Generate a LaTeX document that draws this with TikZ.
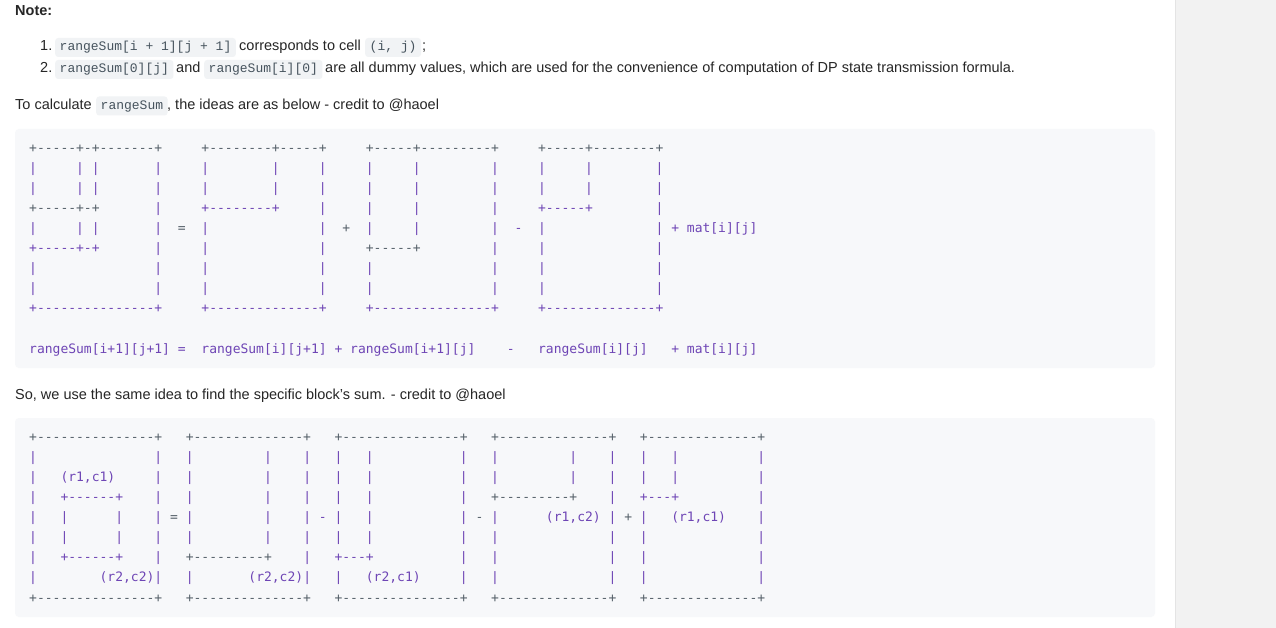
\documentclass[tikz,border=0pt]{standalone}
\usepackage{fontspec}
\setmainfont{Liberation Sans}
\setmonofont{DejaVu Sans Mono}
\newfontfamily\inlfont{Liberation Mono}
\definecolor{prosec}{HTML}{262626}
\definecolor{panel}{HTML}{F2F2F2}
\definecolor{panelline}{HTML}{E4E4E4}
\definecolor{blockbg}{HTML}{F7F8FA}
\definecolor{codebg}{HTML}{F1F3F5}
\definecolor{inltext}{HTML}{46535D}
\definecolor{artg}{HTML}{56616A}
\definecolor{artp}{HTML}{6E45B5}
\newcount\artn
\newcommand\cell[4]{\global\advance\artn by 1\relax
  \edef\artname{a\the\artn}%
  \node[art,text=#3] (\artname) at ({29+(#1)*7.83},{#2}) {#4};}
\newcommand\pipes[2]{\foreach \c in {#2} {\cell{\c}{#1}{artp}{|}}}
\begin{document}
\begin{tikzpicture}[x=1pt,y=-1pt,
  prose/.style={anchor=base west,inner sep=0pt,text=prosec,font=\fontsize{14.5}{17}\selectfont},
  inl/.style={anchor=base west,fill=codebg,rounded corners=3pt,inner xsep=4.5pt,inner ysep=3pt,
    text height=10pt,text depth=3pt,text=inltext,font=\inlfont\fontsize{13}{15}\selectfont},
  art/.style={anchor=base west,inner sep=0pt,font=\ttfamily\fontsize{13}{15}\selectfont}]
\useasboundingbox (0,0) rectangle (1276,628);
\fill[white] (0,0) rectangle (1276,628);
\fill[panel] (1175,0) rectangle (1276,628);
\draw[panelline] (1175.5,0) -- (1175.5,628);
\fill[blockbg,rounded corners=4pt] (15,129) rectangle (1155,368);
\fill[blockbg,rounded corners=4pt] (15,418) rectangle (1155,617);

% prose
\node[prose,font=\bfseries\fontsize{14.5}{17}\selectfont] (note) at (15,16) {Note:};
\node[prose] (n1) at (40,51) {1.};
\node[inl] (c1) at (55,51) {rangeSum[i + 1][j + 1]};
\node[prose] (t1) at (239,51) {corresponds to cell};
\node[inl] (c2) at (365,51) {(i, j)};
\node[prose] (t1e) at (422,51) {;};
\node[prose] (n2) at (40,73) {2.};
\node[inl] (c3) at (55,73) {rangeSum[0][j]};
\node[prose] (t2) at (176,73) {and};
\node[inl] (c4) at (204,73) {rangeSum[i][0]};
\node[prose] (t2e) at (325,73) {are all dummy values, which are used for the convenience of computation of DP state transmission formula.};
\node[prose] (t3) at (15,109.5) {To calculate};
\node[inl] (c5) at (96,109.5) {rangeSum};
\node[prose] (t3e) at (167,109.5) {, the ideas are as below - credit to @haoel};
\node[prose] (t4) at (15,399) {So, we use the same idea to find the specific block\symbol{39}s sum. - credit to @haoel};

% diagram 1
\def\B{152.5}
\cell{0}{\B}{artg}{+-----+-+-------+}
\cell{22}{\B}{artg}{+--------+-----+}
\cell{43}{\B}{artg}{+-----+---------+}
\cell{65}{\B}{artg}{+-----+--------+}
\pipes{\B+20.05}{0,6,8,16,22,31,37,43,49,59,65,71,80}
\pipes{\B+40.1}{0,6,8,16,22,31,37,43,49,59,65,71,80}
\cell{0}{\B+60.15}{artg}{+-----+-+}
\cell{22}{\B+60.15}{artp}{+--------+}
\cell{65}{\B+60.15}{artp}{+-----+}
\pipes{\B+60.15}{16,37,43,49,59,80}
\pipes{\B+80.2}{0,6,8,16,22,37,43,49,59,65,80}
\cell{19}{\B+80.2}{artg}{=}
\cell{40}{\B+80.2}{artg}{+}
\cell{62}{\B+80.2}{artp}{-}
\cell{82}{\B+80.2}{artp}{+}
\cell{84}{\B+80.2}{artp}{mat[i][j]}
\cell{0}{\B+100.25}{artp}{+-----+-+}
\cell{43}{\B+100.25}{artg}{+-----+}
\pipes{\B+100.25}{16,22,37,59,65,80}
\pipes{\B+120.3}{0,16,22,37,43,59,65,80}
\pipes{\B+140.35}{0,16,22,37,43,59,65,80}
\cell{0}{\B+160.4}{artp}{+---------------+}
\cell{22}{\B+160.4}{artp}{+--------------+}
\cell{43}{\B+160.4}{artp}{+---------------+}
\cell{65}{\B+160.4}{artp}{+--------------+}
\cell{0}{\B+200.5}{artp}{rangeSum[i+1][j+1]}
\cell{19}{\B+200.5}{artp}{=}
\cell{22}{\B+200.5}{artp}{rangeSum[i][j+1]}
\cell{39}{\B+200.5}{artp}{+}
\cell{41}{\B+200.5}{artp}{rangeSum[i+1][j]}
\cell{61}{\B+200.5}{artp}{-}
\cell{65}{\B+200.5}{artp}{rangeSum[i][j]}
\cell{82}{\B+200.5}{artp}{+}
\cell{84}{\B+200.5}{artp}{mat[i][j]}

% diagram 2
\def\C{441.6}
\cell{0}{\C}{artg}{+---------------+}
\cell{20}{\C}{artg}{+--------------+}
\cell{39}{\C}{artg}{+---------------+}
\cell{59}{\C}{artg}{+--------------+}
\cell{78}{\C}{artg}{+--------------+}
\pipes{\C+20.05}{0,16,20,30,35,39,43,55,59,69,74,78,82,93}
\pipes{\C+40.1}{0,16,20,30,35,39,43,55,59,69,74,78,82,93}
\cell{4}{\C+40.1}{artp}{(r1,c1)}
\pipes{\C+60.15}{0,16,20,30,35,39,43,55,74,93}
\cell{4}{\C+60.15}{artp}{+------+}
\cell{59}{\C+60.15}{artg}{+---------+}
\cell{78}{\C+60.15}{artp}{+---+}
\pipes{\C+80.2}{0,4,11,16,20,30,35,39,43,55,59,74,78,93}
\cell{18}{\C+80.2}{artg}{=}
\cell{37}{\C+80.2}{artp}{-}
\cell{57}{\C+80.2}{artg}{-}
\cell{66}{\C+80.2}{artp}{(r1,c2)}
\cell{76}{\C+80.2}{artg}{+}
\cell{82}{\C+80.2}{artp}{(r1,c1)}
\pipes{\C+100.25}{0,4,11,16,20,30,35,39,43,55,59,74,78,93}
\pipes{\C+120.3}{0,16,35,55,59,74,78,93}
\cell{4}{\C+120.3}{artp}{+------+}
\cell{20}{\C+120.3}{artg}{+---------+}
\cell{39}{\C+120.3}{artp}{+---+}
\pipes{\C+140.35}{0,16,20,35,39,55,59,74,78,93}
\cell{9}{\C+140.35}{artp}{(r2,c2)}
\cell{28}{\C+140.35}{artp}{(r2,c2)}
\cell{43}{\C+140.35}{artp}{(r2,c1)}
\cell{0}{\C+160.4}{artg}{+---------------+}
\cell{20}{\C+160.4}{artg}{+--------------+}
\cell{39}{\C+160.4}{artg}{+---------------+}
\cell{59}{\C+160.4}{artg}{+--------------+}
\cell{78}{\C+160.4}{artg}{+--------------+}
\end{tikzpicture}
\end{document}
